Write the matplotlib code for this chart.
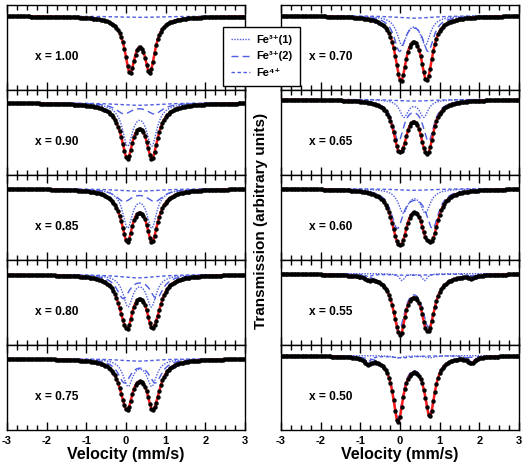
import numpy as np
import matplotlib
matplotlib.use('Agg')
import matplotlib.pyplot as plt
from matplotlib.lines import Line2D
from matplotlib.ticker import MultipleLocator

plt.rcParams['font.family'] = ['Liberation Sans', 'DejaVu Sans']
plt.rcParams['font.weight'] = 'bold'

# ---- data ----
compositions = ['1.00', '0.90', '0.85', '0.80', '0.75',
                '0.70', '0.65', '0.60', '0.55', '0.50']
baseline = [0.87, 0.85, 0.84, 0.83, 0.84, 0.875, 0.89, 0.84, 0.84, 0.875]

# Fe3+(1) doublet: left line, right line, half width, depth
fe31_left = [0.10, 0.04, 0.04, 0.05, 0.05, 0.05, 0.10, 0.08, 0.05, -0.05]
fe31_right = [0.60, 0.65, 0.65, 0.64, 0.65, 0.64, 0.60, 0.64, 0.62, 0.75]
fe31_width = [0.16, 0.16, 0.15, 0.15, 0.15, 0.15, 0.13, 0.15, 0.08, 0.15]
fe31_depth = [0.60, 0.48, 0.44, 0.36, 0.31, 0.33, 0.20, 0.27, 0.08, 0.025]

# Fe3+(2) doublet: left line, right line, half width, depth (left / right line)
fe32_left = [-0.05, -0.05, -0.05, -0.07, -0.04, -0.01, -0.04, -0.07, -0.02, -0.05]
fe32_right = [0.75, 0.72, 0.73, 0.77, 0.74, 0.71, 0.72, 0.82, 0.72, 0.75]
fe32_width = [0.25, 0.25, 0.25, 0.20, 0.20, 0.17, 0.17, 0.19, 0.19, 0.155]
fe32_depth_l = [0.00, 0.12, 0.14, 0.27, 0.27, 0.40, 0.47, 0.45, 0.61, 0.71]
fe32_depth_r = [0.00, 0.12, 0.14, 0.27, 0.27, 0.40, 0.47, 0.45, 0.59, 0.66]

# Fe4+ singlet: centre, half width, depth
fe4_centre = [0.35, 0.30, 0.30, 0.30, 0.30, 0.35, 0.35, 0.35, 0.30, 0.05]
fe4_width = [0.80, 0.70, 0.70, 0.60, 0.60, 0.60, 0.60, 0.60, 0.70, 0.30]
fe4_depth = [0.015, 0.03, 0.03, 0.04, 0.03, 0.03, 0.02, 0.02, 0.02, 0.025]

# weak outer lines (x = 0.55, 0.50): left, right, half width, depth
outer_left = [0, 0, 0, 0, 0, 0, 0, 0, -0.79, -0.81]
outer_right = [0, 0, 0, 0, 0, 0, 0, 0, 1.81, 1.80]
outer_width = [0.1, 0.1, 0.1, 0.1, 0.1, 0.1, 0.1, 0.1, 0.10, 0.11]
outer_depth = [0, 0, 0, 0, 0, 0, 0, 0, 0.03, 0.07]

xticks = [-3, -2, -1, 0, 1, 2, 3]

BLUE = '#4d5ce0'
RED = '#ff1a1a'


def lor(v, c, g):
    return g * g / ((v - c) ** 2 + g * g)


W, H = 524, 469
fig = plt.figure(figsize=(W / 100, H / 100), dpi=100)

vfine = np.linspace(-3, 3, 1201)
vdata = np.linspace(-3, 3, 151)

for i, comp in enumerate(compositions):
    col, row = divmod(i, 5)
    left_px = 7 if col == 0 else 281
    top_px = 5 + 85 * row
    ax = fig.add_axes([left_px / W, 1 - (top_px + 85) / H, 238 / W, 85 / H])
    b = baseline[i]

    def parts(v):
        p1 = fe31_depth[i] * (lor(v, fe31_left[i], fe31_width[i]) +
                              lor(v, fe31_right[i], fe31_width[i]))
        p2 = (fe32_depth_l[i] * lor(v, fe32_left[i], fe32_width[i]) +
              fe32_depth_r[i] * lor(v, fe32_right[i], fe32_width[i]))
        p4 = fe4_depth[i] * lor(v, fe4_centre[i], fe4_width[i])
        po = outer_depth[i] * (lor(v, outer_left[i], outer_width[i]) +
                               lor(v, outer_right[i], outer_width[i]))
        return p1, p2, p4, po

    p1, p2, p4, po = parts(vfine)
    ax.plot(vfine, b - p1, color=BLUE, lw=1.0, ls=(0, (1, 1)))
    if fe32_depth_l[i] > 0:
        ax.plot(vfine, b - p2, color=BLUE, lw=1.0, ls=(0, (5, 3)))
    ax.plot(vfine, b - p4 - po, color=BLUE, lw=1.0, ls=(0, (2.5, 1.8)))
    ax.plot(vfine, b - (p1 + p2 + p4 + po), color=RED, lw=1.8)
    d1, d2, d4, do = parts(vdata)
    ax.plot(vdata, b - (d1 + d2 + d4 + do), 'o', color='black', ms=3.2, mew=0)

    ax.set_xlim(-3, 3)
    ax.set_ylim(0, 1)
    ax.set_yticks([])
    ax.xaxis.set_major_locator(MultipleLocator(1))
    ax.xaxis.set_minor_locator(MultipleLocator(0.25))
    ax.tick_params(axis='x', which='both', direction='in', top=True, bottom=True,
                   width=1.0, color='black')
    ax.tick_params(axis='x', which='major', length=6)
    ax.tick_params(axis='x', which='minor', length=3.5)
    for s in ax.spines.values():
        s.set_linewidth(1.0)
    ax.text(0.118, 0.39, 'x = ' + comp, transform=ax.transAxes, fontsize=8.6,
            fontweight='bold', va='center', ha='left')
    if row == 4:
        ax.set_xticks(xticks)
        ax.set_xticklabels([str(t) for t in xticks], fontsize=8, fontweight='bold')
        ax.tick_params(axis='x', which='major', pad=4)
        ax.set_xlabel('Velocity (mm/s)', fontsize=11.5, fontweight='bold', labelpad=1)
    else:
        ax.set_xticklabels([])

fig.text(261 / W, 1 - 221 / H, 'Transmission (arbitrary units)', rotation=90,
         fontsize=11, fontweight='bold', ha='center', va='center')

handles = [Line2D([], [], color=BLUE, lw=1.0, ls=(0, (1, 1))),
           Line2D([], [], color=BLUE, lw=1.0, ls=(0, (5, 3))),
           Line2D([], [], color=BLUE, lw=1.0, ls=(0, (2.5, 1.8)))]
labels = ['Fe³⁺(1)', 'Fe³⁺(2)', 'Fe⁴⁺']
leg = fig.legend(handles, labels, loc='upper left',
                 bbox_to_anchor=(223 / W, 1 - 27 / H), frameon=True,
                 fancybox=False, edgecolor='black', framealpha=1,
                 prop={'size': 8, 'weight': 'bold'}, handlelength=1.7,
                 handletextpad=0.6, borderpad=0.7, labelspacing=0.6,
                 borderaxespad=0)
leg.get_frame().set_linewidth(1.0)

fig.savefig('out.png', dpi=100)
